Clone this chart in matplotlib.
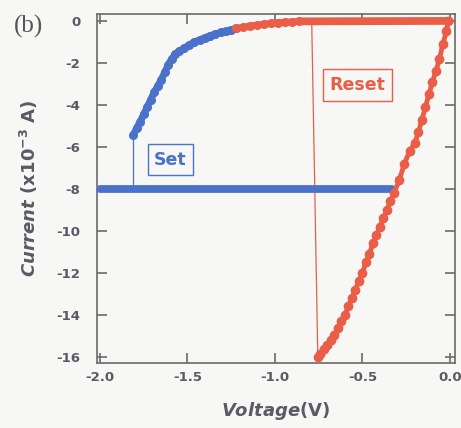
import matplotlib
matplotlib.use("Agg")
import matplotlib.pyplot as plt

plt.rcParams["mathtext.fontset"] = "custom"
plt.rcParams["mathtext.rm"] = "DejaVu Sans:bold"
plt.rcParams["mathtext.it"] = "DejaVu Sans:bold:italic"
plt.rcParams["mathtext.bf"] = "DejaVu Sans:bold"
plt.rcParams["font.family"] = ["DejaVu Sans"]

# Set sweep: rising branch (V, mA) and compliance plateau
set_v = [-1.81, -1.79, -1.77, -1.75, -1.73, -1.71, -1.69, -1.67, -1.65, -1.63,
         -1.61, -1.59, -1.57, -1.55, -1.52, -1.49, -1.46, -1.43, -1.40, -1.37,
         -1.34, -1.31, -1.28, -1.25, -1.22]
set_i = [-5.45, -5.10, -4.80, -4.45, -4.10, -3.75, -3.40, -3.10, -2.80, -2.45,
         -2.10, -1.80, -1.60, -1.45, -1.30, -1.15, -1.00, -0.90, -0.80, -0.70,
         -0.62, -0.55, -0.48, -0.42, -0.36]
comp_v = [-2.0, -0.33]
comp_i = [-8.0, -8.0]
set_jump_v = [-1.81, -1.81]
set_jump_i = [-8.0, -5.45]

# Reset sweep: approach to zero, flat part, steep descent, jump back
reset_a_v = [-1.22, -1.18, -1.14, -1.10, -1.06, -1.02, -0.98, -0.94, -0.90, -0.86]
reset_a_i = [-0.36, -0.30, -0.24, -0.20, -0.16, -0.12, -0.09, -0.06, -0.04, -0.02]
reset_flat_v = [-0.86, 0.0]
reset_flat_i = [-0.02, 0.0]
reset_b_v = [-0.01, -0.02, -0.04, -0.06, -0.08, -0.10, -0.12, -0.14, -0.16, -0.18,
             -0.20, -0.23, -0.26, -0.29, -0.32, -0.34, -0.36, -0.38, -0.40, -0.42,
             -0.44, -0.46, -0.48, -0.50, -0.52, -0.54, -0.56, -0.58, -0.60, -0.62,
             -0.64, -0.66, -0.68, -0.70, -0.72, -0.74, -0.755]
reset_b_i = [0.0, -0.5, -1.1, -1.8, -2.4, -2.9, -3.5, -4.1, -4.7, -5.3,
             -5.8, -6.2, -6.8, -7.6, -8.2, -8.6, -9.0, -9.4, -9.8, -10.2,
             -10.6, -11.1, -11.5, -12.0, -12.4, -12.8, -13.2, -13.6, -14.0, -14.3,
             -14.65, -14.95, -15.2, -15.45, -15.65, -15.85, -16.0]
reset_jump_v = [-0.755, -0.79]
reset_jump_i = [-16.0, 0.0]

x_ticks = [-2.0, -1.5, -1.0, -0.5, 0.0]
x_labels = ["-2.0", "-1.5", "-1.0", "-0.5", "0.0"]
y_ticks = [0, -2, -4, -6, -8, -10, -12, -14, -16]
y_labels = ["0", "-2", "-4", "-6", "-8", "-10", "-12", "-14", "-16"]

blue = "#4a72c8"
red = "#ea5e48"
grey = "#5a5a64"
bg = "#f7f7f6"

fig = plt.figure(figsize=(4.61, 4.28), dpi=100, facecolor=bg)
ax = fig.add_axes([0.2104, 0.1519, 0.7766, 0.8154], facecolor=bg)

# Set branch
ax.plot(comp_v, comp_i, color=blue, lw=5.6, solid_capstyle="round", zorder=3)
ax.plot(set_jump_v, set_jump_i, color=blue, lw=0.9, zorder=2)
ax.plot(set_v, set_i, color=blue, lw=5.0, marker="o", ms=5.5, mec=blue,
        solid_capstyle="round", zorder=3)

# Reset branch
ax.plot(reset_a_v, reset_a_i, color=red, lw=5.0, marker="o", ms=5.5, mec=red,
        solid_capstyle="round", zorder=4)
ax.plot(reset_flat_v, reset_flat_i, color=red, lw=5.6, solid_capstyle="round", zorder=4)
ax.plot(reset_jump_v, reset_jump_i, color=red, lw=0.9, zorder=2)
ax.plot(reset_b_v, reset_b_i, color=red, lw=3.5, marker="o", ms=6.0, mec=red, zorder=4)

ax.text(-1.597, -6.62, "Set", color=blue, fontsize=12.5, fontweight="bold",
        ha="center", va="center",
        bbox=dict(boxstyle="square,pad=0.38", fc="none", ec=blue, lw=1.0))
ax.text(-0.53, -3.05, "Reset", color=red, fontsize=12.5, fontweight="bold",
        ha="center", va="center",
        bbox=dict(boxstyle="square,pad=0.38", fc="none", ec=red, lw=1.0))

ax.set_xlim(-2.017, 0.029)
ax.set_ylim(-16.3, 0.33)
ax.set_xticks(x_ticks)
ax.set_xticklabels(x_labels)
ax.set_yticks(y_ticks)
ax.set_yticklabels(y_labels)
ax.tick_params(direction="in", length=7, width=1.2, color="#6a6a6a",
               top=True, right=True, labelsize=9.5, labelcolor=grey)
ax.tick_params(axis="y", pad=12)
ax.tick_params(axis="x", pad=6)
for lab in ax.get_xticklabels() + ax.get_yticklabels():
    lab.set_fontweight("bold")
for sp in ax.spines.values():
    sp.set_color("#6a6a6a")
    sp.set_linewidth(1.2)

ax.set_xlabel(r"$\it{Voltage}$(V)", fontsize=13, fontweight="bold", color=grey)
ax.set_ylabel(r"$\it{Current}$ (x10$^{-3}$ A)", fontsize=13, fontweight="bold",
              color=grey)
ax.xaxis.set_label_coords(0.5, -0.105)
ax.yaxis.set_label_coords(-0.16, 0.5)

fig.text(14 / 461, 1 - 26 / 428, "(b)", fontsize=18, family="Liberation Serif",
         color="#555555", ha="left", va="center")

fig.savefig("out.png", dpi=100, facecolor=bg)
